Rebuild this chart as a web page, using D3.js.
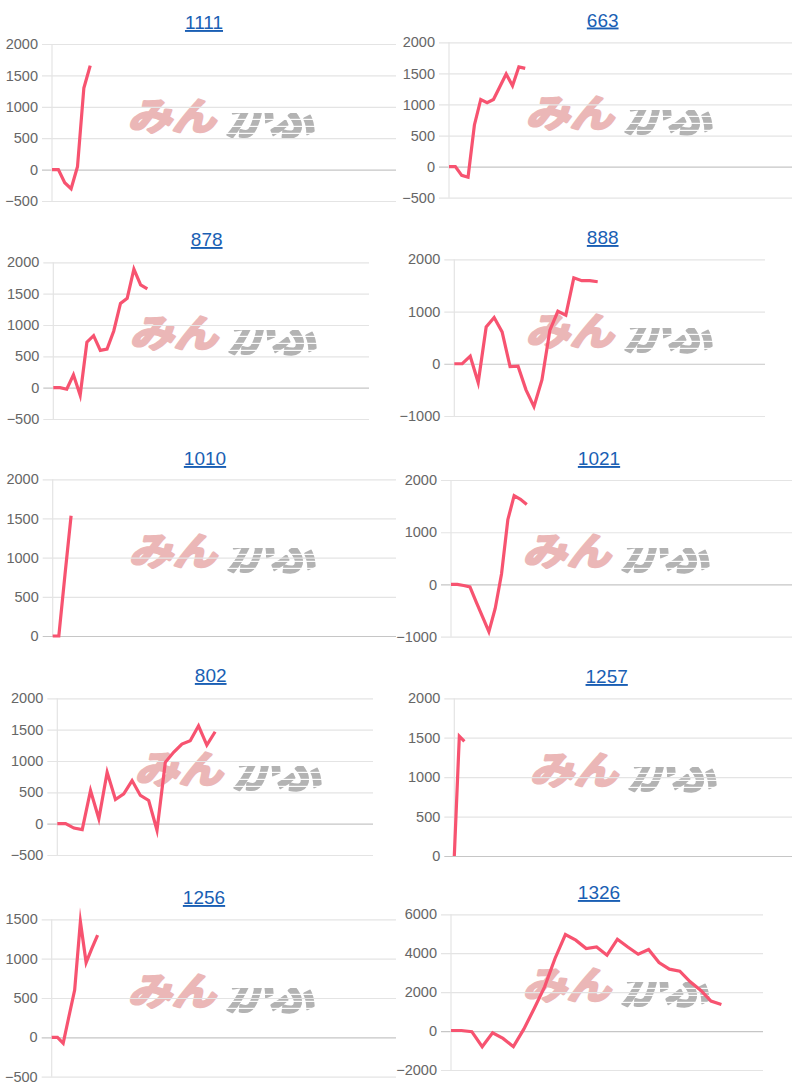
<!DOCTYPE html>
<html><head><meta charset="utf-8">
<script src="https://cdn.jsdelivr.net/npm/d3@7/dist/d3.min.js"></script>
<style>
html,body{margin:0;padding:0;background:#fff;}
svg{display:block;}
</style></head>
<body>
<svg id="c" width="792" height="1090"></svg>
<script>
// ---------- DATA ----------
const titles = ["1111","663","878","888","1010","1021","802","1257","1256","1326"];

const v1111 = [0, 0, -210, -305, 45, 1300, 1655];
const v663  = [0, 0, -140, -170, 670, 1080, 1030, 1080, 1285, 1490, 1300, 1605, 1580];
const v878  = [0, 0, -25, 205, -120, 725, 830, 595, 615, 905, 1345, 1425, 1890, 1640, 1575];
const v888  = [0, 0, 145, -360, 705, 885, 610, -55, -45, -500, -820, -310, 645, 1005, 930, 1645, 1590, 1590, 1570];
const v1010 = [0, 0, 780, 1535];
const v1021 = [0, 0, -20, -45, -340, -620, -905, -460, 200, 1240, 1700, 1630, 1530];
const v802  = [0, 0, -70, -95, 529, 79, 820, 386, 476, 688, 450, 370, -106, 979, 1138, 1270, 1323, 1561, 1254, 1466];
const v1257 = [0, 1520, 1455];
const v1256 = [0, 0, -75, 265, 600, 1470, 950, 1130, 1300];
const v1326 = [30, 30, -30, -800, -85, -375, -800, 100, 1160, 2270, 3730, 4960, 4670, 4240, 4320, 3900, 4720, 4320, 3950, 4190, 3520, 3180, 3080, 2530, 2100, 1540, 1370];

// number of x categories on each chart's (hidden) x axis
const slotCounts = [55, 55, 48, 40, 57, 55, 39, 68, 61, 31];

const ticks1111 = [-500, 0, 500, 1000, 1500, 2000];
const ticks663  = [-500, 0, 500, 1000, 1500, 2000];
const ticks878  = [-500, 0, 500, 1000, 1500, 2000];
const ticks888  = [-1000, 0, 1000, 2000];
const ticks1010 = [0, 500, 1000, 1500, 2000];
const ticks1021 = [-1000, 0, 1000, 2000];
const ticks802  = [-500, 0, 500, 1000, 1500, 2000];
const ticks1257 = [0, 500, 1000, 1500, 2000];
const ticks1256 = [-500, 0, 500, 1000, 1500];
const ticks1326 = [-2000, 0, 2000, 4000, 6000];

const seriesList = [v1111, v663, v878, v888, v1010, v1021, v802, v1257, v1256, v1326];
const tickList = [ticks1111, ticks663, ticks878, ticks888, ticks1010, ticks1021, ticks802, ticks1257, ticks1256, ticks1326];

// ---------- LAYOUT (positions only) ----------
const layout = [
  {ax: 52,    right: 396, top: 44,    bottom: 201,    tx: 204,   ty: 29,  wx: 224, wy: 113},
  {ax: 449,   right: 792, top: 42.3,  bottom: 197.7,  tx: 602.7, ty: 26.5,wx: 622, wy: 110},
  {ax: 53.3,  right: 369, top: 262.3, bottom: 419,    tx: 206.7, ty: 246, wx: 226, wy: 330},
  {ax: 454.3, right: 765, top: 259.3, bottom: 416,    tx: 602.7, ty: 244, wx: 622, wy: 328},
  {ax: 52.7,  right: 396, top: 479.3, bottom: 636,    tx: 205,   ty: 465, wx: 225, wy: 548},
  {ax: 451,   right: 792, top: 480,   bottom: 636.7,  tx: 599,   ty: 465, wx: 619, wy: 548},
  {ax: 57.3,  right: 373, top: 698.3, bottom: 855,    tx: 210.7, ty: 682, wx: 231, wy: 766},
  {ax: 454.3, right: 792, top: 698.3, bottom: 856,    tx: 606.7, ty: 683, wx: 626, wy: 767},
  {ax: 51.7,  right: 396, top: 919.3, bottom: 1076.7, tx: 204,   ty: 904, wx: 224, wy: 988},
  {ax: 451,   right: 763, top: 914.3, bottom: 1070,   tx: 599,   ty: 899, wx: 619, wy: 982}
];

const LINE_COLOR = "rgb(247, 83, 112)";
const svg = d3.select("#c");
svg.append("rect").attr("width", 792).attr("height", 1090).attr("fill", "#fff");

const defs = svg.append("defs");
const pat = defs.append("pattern").attr("id", "stripes").attr("patternUnits", "userSpaceOnUse")
  .attr("width", 8).attr("height", 7);
pat.append("rect").attr("width", 8).attr("height", 5.9).attr("fill", "#fff");
const mask = defs.append("mask").attr("id", "stripeMask").attr("maskUnits", "userSpaceOnUse")
  .attr("x", 0).attr("y", 0).attr("width", 792).attr("height", 1090);
mask.append("rect").attr("width", 792).attr("height", 1090).attr("fill", "url(#stripes)");

titles.forEach((t, k) => {
  const L = layout[k];
  const vals = seriesList[k];
  const ticks = tickList[k];
  const g = svg.append("g");

  // watermark logo (background)
  const wm = g.append("g").attr("transform", `translate(${L.wx},${L.wy}) skewX(-14)`);
  wm.append("text")
    .attr("x", -92).attr("y", 0)
    .attr("dominant-baseline", "central")
    .attr("font-family", "'Noto Sans CJK JP', sans-serif")
    .attr("font-weight", 700)
    .attr("font-size", 38)
    .attr("textLength", 88).attr("lengthAdjust", "spacingAndGlyphs")
    .attr("fill", "#ebb7b7").attr("stroke", "#ebb7b7").attr("stroke-width", 2.6)
    .attr("stroke-linejoin", "round")
    .text("みん");
  wm.append("text")
    .attr("x", 6).attr("y", 1)
    .attr("dominant-baseline", "central")
    .attr("font-family", "'Noto Sans CJK JP', sans-serif")
    .attr("font-weight", 700)
    .attr("font-size", 48)
    .attr("textLength", 90).attr("lengthAdjust", "spacingAndGlyphs")
    .attr("fill", "#b3b3b3").attr("stroke", "#b3b3b3").attr("stroke-width", 2.2)
    .attr("stroke-linejoin", "round")
    .attr("mask", "url(#stripeMask)")
    .text("かぶ");

  const x = d3.scalePoint().domain(d3.range(slotCounts[k])).range([L.ax, L.right]);
  const y = d3.scaleLinear().domain([d3.min(ticks), d3.max(ticks)]).range([L.bottom, L.top]);

  // y axis with gridlines
  const axis = d3.axisLeft(y).tickValues(ticks).tickFormat(d3.format("d"))
    .tickSize(-(L.right - L.ax + 10)).tickPadding(4);
  const ag = g.append("g").attr("transform", `translate(${L.ax - 10},0)`).call(axis);
  ag.select(".domain").remove();
  ag.selectAll(".tick line")
    .attr("stroke", d => d === 0 ? "#c6c6c6" : "#e4e4e4")
    .attr("stroke-width", 1.2);
  ag.selectAll(".tick text")
    .attr("fill", "#666")
    .attr("font-family", "'Liberation Sans', Arial, sans-serif")
    .attr("font-size", 14.5);

  // left border line
  g.append("line")
    .attr("x1", L.ax).attr("x2", L.ax)
    .attr("y1", L.top).attr("y2", L.bottom)
    .attr("stroke", "#e4e4e4").attr("stroke-width", 1.2);

  // data line
  const line = d3.line().x((d, i) => x(i)).y(d => y(d));
  g.append("path").datum(vals)
    .attr("d", line)
    .attr("fill", "none")
    .attr("stroke", LINE_COLOR)
    .attr("stroke-width", 3.2)
    .attr("stroke-linejoin", "miter")
    .attr("stroke-miterlimit", 10);

  // title
  g.append("text")
    .attr("x", L.tx).attr("y", L.ty)
    .attr("text-anchor", "middle")
    .attr("font-family", "'Liberation Sans', Arial, sans-serif")
    .attr("font-size", 19)
    .attr("fill", "#1a5fb4")
    .attr("text-decoration", "underline")
    .text(t);
});
</script>
</body></html>
